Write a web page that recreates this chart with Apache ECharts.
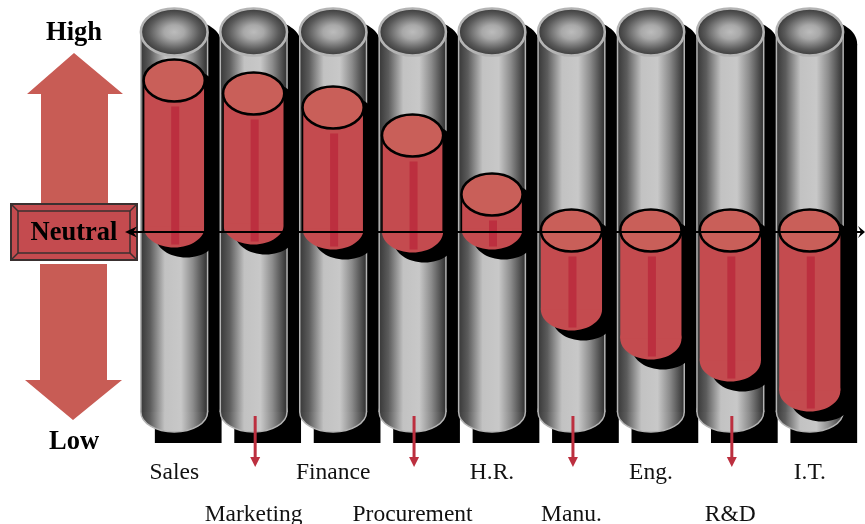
<!DOCTYPE html>
<html>
<head>
<meta charset="utf-8">
<title>Perception by department</title>
<style>
  html, body { margin: 0; padding: 0; background: #fff; }
  #main { width: 865px; height: 524px; }
</style>
<script src="https://cdn.jsdelivr.net/npm/echarts@6/dist/echarts.min.js"></script>
</head>
<body>
<div id="main"></div>
<script>
var departments = ['Sales', 'Marketing', 'Finance', 'Procurement', 'H.R.', 'Manu.', 'Eng.', 'R&D', 'I.T.'];
// level of the top and of the bottom of each red cylinder, 0 = neutral
var levelTop = [151.5, 138.5, 124.5, 96.5, 37.5, 1.5, 1.5, 1.5, 1.5];
var levelBottom = [5.5, 8.5, 3.5, 0.5, 3.5, -77.5, -106.5, -128.5, -158.5];
// the grey tubes all span the same range
var tubeTop = 200;
var tubeBottom = -180;
var tubeShadowFloor = -211;
var leaderTop = -184;
var leaderBottom = -235;

var serif = '"Liberation Serif", "Times New Roman", serif';
var black = '#000';
var redBody = '#c44b4f';
var redCap = '#c95f59';
var redCore = '#bc2f3f';
var arrowRed = '#c85c55';
var rim = '#b4b4b4';

var tubeFill = {
  type: 'linear', x: 0, y: 0, x2: 1, y2: 0,
  colorStops: [
    { offset: 0, color: '#383838' },
    { offset: 0.14, color: '#5c5c5c' },
    { offset: 0.36, color: '#c2c2c2' },
    { offset: 0.6, color: '#c8c8c8' },
    { offset: 0.78, color: '#8c8c8c' },
    { offset: 1, color: '#2e2e2e' }
  ]
};
var mouthFill = {
  type: 'radial', x: 0.5, y: 0.5, r: 0.5,
  colorStops: [
    { offset: 0, color: '#bcbcbc' },
    { offset: 0.3, color: '#a8a8a8' },
    { offset: 0.75, color: '#5a5a5a' },
    { offset: 1, color: '#3a3a3a' }
  ]
};

function renderTube(params, api) {
  var cx = api.coord([api.value(0), 0])[0];
  var rx = api.size([1, 0])[0] * 0.42;
  var top = api.coord([0, tubeTop])[1];
  var bottom = api.coord([0, tubeBottom])[1];
  var floor = api.coord([0, tubeShadowFloor])[1];
  var ryTop = 23.5;
  var ryBottom = 20;
  return {
    type: 'group',
    children: [
      { type: 'ellipse', shape: { cx: cx + 14, cy: top + 12, rx: rx, ry: ryTop }, style: { fill: black } },
      { type: 'rect', shape: { x: cx + 14 - rx, y: top + 12, width: rx * 2, height: floor - top - 12 }, style: { fill: black } },
      { type: 'ellipse', shape: { cx: cx, cy: bottom, rx: rx, ry: ryBottom }, style: { fill: tubeFill, stroke: rim, lineWidth: 1.5 } },
      { type: 'rect', shape: { x: cx - rx, y: top, width: rx * 2, height: bottom - top }, style: { fill: tubeFill } },
      { type: 'line', shape: { x1: cx - rx, y1: top, x2: cx - rx, y2: bottom }, style: { stroke: rim, lineWidth: 1.5 } },
      { type: 'line', shape: { x1: cx + rx, y1: top, x2: cx + rx, y2: bottom }, style: { stroke: rim, lineWidth: 1.5 } },
      { type: 'circle', x: cx, y: top, scaleX: rx / ryTop, shape: { cx: 0, cy: 0, r: ryTop }, style: { fill: mouthFill } },
      { type: 'ellipse', shape: { cx: cx, cy: top, rx: rx, ry: ryTop }, style: { fill: 'none', stroke: rim, lineWidth: 2.5 } }
    ]
  };
}

function renderLevel(params, api) {
  var cx = api.coord([api.value(0), 0])[0];
  var rx = api.size([1, 0])[0] * 0.385;
  var top = api.coord([0, api.value(1)])[1];
  var bottom = api.coord([0, api.value(2)])[1];
  var neutral = api.coord([0, 0])[1];
  var ry = 21;
  var kids = [
    { type: 'ellipse', shape: { cx: cx + 12, cy: top + 10, rx: rx, ry: ry }, style: { fill: black } },
    { type: 'ellipse', shape: { cx: cx + 12, cy: bottom + 10, rx: rx, ry: ry }, style: { fill: black } },
    { type: 'rect', shape: { x: cx + 12 - rx, y: top + 10, width: rx * 2, height: bottom - top }, style: { fill: black } },
    { type: 'ellipse', shape: { cx: cx, cy: bottom, rx: rx, ry: ry }, style: { fill: redBody } },
    { type: 'rect', shape: { x: cx - rx, y: top, width: rx * 2, height: bottom - top }, style: { fill: redBody } },
    { type: 'rect', shape: { x: cx - 3, y: top + ry + 5, width: 8, height: bottom + ry - 3 - (top + ry + 5) }, style: { fill: redCore } }
  ];
  // the outline only runs down to the neutral line
  if (neutral > top) {
    kids.push({ type: 'line', shape: { x1: cx - rx, y1: top, x2: cx - rx, y2: neutral }, style: { stroke: black, lineWidth: 1.5 } });
    kids.push({ type: 'line', shape: { x1: cx + rx, y1: top, x2: cx + rx, y2: neutral }, style: { stroke: black, lineWidth: 1.5 } });
  }
  kids.push({ type: 'ellipse', shape: { cx: cx, cy: top, rx: rx, ry: ry }, style: { fill: redCap, stroke: black, lineWidth: 2.5 } });
  return { type: 'group', children: kids };
}

function renderLeader(params, api) {
  var cx = api.coord([api.value(0), 0])[0] + 1.5;
  var y1 = api.coord([0, leaderTop])[1];
  var y2 = api.coord([0, leaderBottom])[1];
  return {
    type: 'group',
    children: [
      { type: 'line', shape: { x1: cx, y1: y1, x2: cx, y2: y2 - 8 }, style: { stroke: redCore, lineWidth: 3 } },
      { type: 'polygon', shape: { points: [[cx - 5, y2 - 10], [cx + 5, y2 - 10], [cx, y2]] }, style: { fill: redCore } }
    ]
  };
}

function renderNeutral(params, api) {
  var y = api.coord([0, 0])[1];
  var left = 125;
  var right = api.getWidth();
  return {
    type: 'group',
    children: [
      { type: 'line', shape: { x1: left + 6, y1: y, x2: right - 4, y2: y }, style: { stroke: black, lineWidth: 2 } },
      { type: 'polygon', shape: { points: [[left, y], [left + 12, y - 5.5], [left + 8, y], [left + 12, y + 5.5]] }, style: { fill: black } },
      { type: 'polygon', shape: { points: [[right, y], [right - 7, y - 6], [right - 4, y], [right - 7, y + 6]] }, style: { fill: black } }
    ]
  };
}

function customSeries(name, renderItem, data) {
  return { name: name, type: 'custom', renderItem: renderItem, data: data, silent: true, animation: false };
}

var indexes = departments.map(function (d, i) { return [i]; });
var levels = departments.map(function (d, i) { return [i, levelTop[i], levelBottom[i]]; });
var everyOther = indexes.filter(function (d) { return d[0] % 2 === 1; });

var edge = '#3a3030';
var option = {
  animation: false,
  backgroundColor: '#fff',
  grid: { left: 134.5, right: 15.5, top: 0, bottom: 74, outerBoundsMode: 'none' },
  xAxis: {
    type: 'category',
    data: departments,
    axisLine: { show: false },
    axisTick: { show: false },
    splitLine: { show: false },
    axisLabel: {
      interval: 0,
      margin: 2,
      hideOverlap: false,
      fontFamily: serif,
      fontSize: 23.5,
      color: '#111',
      lineHeight: 42,
      formatter: function (value, i) { return i % 2 ? '\n' + value : value; }
    }
  },
  yAxis: { type: 'value', min: -218, max: 232, show: false },
  graphic: [
    { type: 'polygon', shape: { points: [[74, 53], [123, 94], [108, 94], [108, 204], [41, 204], [41, 94], [27, 94]] }, style: { fill: arrowRed } },
    { type: 'polygon', shape: { points: [[40, 264], [107, 264], [107, 380], [122, 380], [73, 420], [25, 380], [40, 380]] }, style: { fill: arrowRed } },
    { type: 'rect', shape: { x: 11, y: 204, width: 126, height: 56 }, style: { fill: redBody, stroke: edge, lineWidth: 2 } },
    { type: 'rect', shape: { x: 18, y: 211, width: 112, height: 42 }, style: { fill: redBody, stroke: edge, lineWidth: 1.5 } },
    { type: 'line', shape: { x1: 11, y1: 204, x2: 18, y2: 211 }, style: { stroke: edge, lineWidth: 1.5 } },
    { type: 'line', shape: { x1: 137, y1: 204, x2: 130, y2: 211 }, style: { stroke: edge, lineWidth: 1.5 } },
    { type: 'line', shape: { x1: 11, y1: 260, x2: 18, y2: 253 }, style: { stroke: edge, lineWidth: 1.5 } },
    { type: 'line', shape: { x1: 137, y1: 260, x2: 130, y2: 253 }, style: { stroke: edge, lineWidth: 1.5 } },
    { type: 'text', x: 74, y: 233, style: { text: 'Neutral', font: 'bold 26.5px ' + serif, fill: black, textAlign: 'center', textVerticalAlign: 'middle' } },
    { type: 'text', x: 74, y: 33, style: { text: 'High', font: 'bold 26.5px ' + serif, fill: black, textAlign: 'center', textVerticalAlign: 'middle' } },
    { type: 'text', x: 74, y: 442, style: { text: 'Low', font: 'bold 26.5px ' + serif, fill: black, textAlign: 'center', textVerticalAlign: 'middle' } }
  ],
  series: [
    customSeries('Range', renderTube, indexes),
    customSeries('Level', renderLevel, levels),
    customSeries('Leaders', renderLeader, everyOther),
    customSeries('Neutral', renderNeutral, [[0]])
  ]
};

var chart = echarts.init(document.getElementById('main'));
chart.setOption(option);
</script>
</body>
</html>
